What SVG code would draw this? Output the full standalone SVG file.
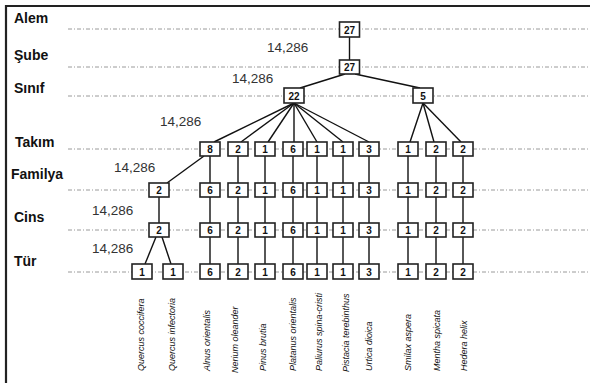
<svg xmlns="http://www.w3.org/2000/svg" width="590" height="383" viewBox="0 0 590 383">
<style>
.lvl{font-family:"Liberation Sans",Arial,sans-serif;font-weight:bold;font-size:14px;fill:#111}
.val{font-family:"Liberation Sans",Arial,sans-serif;font-size:13.5px;fill:#333}
.grid{stroke:#9a9a9a;stroke-width:1;stroke-dasharray:4 2 1 2;fill:none}
.box rect{fill:#fff;stroke:#222;stroke-width:1.6}
.box text{font-family:"Liberation Sans",Arial,sans-serif;font-weight:bold;font-size:10px;fill:#111;text-anchor:middle}
.edge{stroke:#111;stroke-width:1.4;fill:none}
.sp{font-family:"Liberation Sans",Arial,sans-serif;font-style:italic;font-size:9px;fill:#111}
</style>
<rect x="0" y="0" width="590" height="383" fill="#fff"/>
<path d="M6 383 V6 H590" stroke="#222" stroke-width="2.2" fill="none"/>
<g id="levels">
<text class="lvl" x="14" y="23">Alem</text>
<text class="lvl" x="14" y="60">Şube</text>
<text class="lvl" x="14" y="93">Sınıf</text>
<text class="lvl" x="15" y="147">Takım</text>
<text class="lvl" x="11" y="179">Familya</text>
<text class="lvl" x="14" y="222">Cins</text>
<text class="lvl" x="14" y="266">Tür</text>
</g>
<g id="grid">
<line class="grid" x1="68" y1="29" x2="590" y2="29"/>
<line class="grid" x1="68" y1="67" x2="590" y2="67"/>
<line class="grid" x1="68" y1="96" x2="590" y2="96"/>
<line class="grid" x1="68" y1="149" x2="590" y2="149"/>
<line class="grid" x1="68" y1="190" x2="590" y2="190"/>
<line class="grid" x1="68" y1="230" x2="590" y2="230"/>
<line class="grid" x1="68" y1="272" x2="590" y2="272"/>
</g>
<g id="values">
<text class="val" x="267" y="52">14,286</text>
<text class="val" x="232" y="83">14,286</text>
<text class="val" x="160" y="126">14,286</text>
<text class="val" x="114" y="172">14,286</text>
<text class="val" x="92" y="215">14,286</text>
<text class="val" x="92" y="253">14,286</text>
</g>
<g id="connectors">
<line class="edge" x1="349.5" y1="37" x2="349.5" y2="60"/>
<line class="edge" x1="345" y1="74" x2="300" y2="88"/>
<line class="edge" x1="355" y1="74" x2="420" y2="88"/>
<line class="edge" x1="294" y1="103" x2="214" y2="142"/>
<line class="edge" x1="294" y1="103" x2="241" y2="142"/>
<line class="edge" x1="294" y1="103" x2="268" y2="142"/>
<line class="edge" x1="294" y1="103" x2="294" y2="142"/>
<line class="edge" x1="294" y1="103" x2="317" y2="142"/>
<line class="edge" x1="294" y1="103" x2="343" y2="142"/>
<line class="edge" x1="294" y1="103" x2="369" y2="142"/>
<line class="edge" x1="423" y1="103" x2="410" y2="142"/>
<line class="edge" x1="423" y1="103" x2="434" y2="142"/>
<line class="edge" x1="423" y1="103" x2="461" y2="142"/>
<line class="edge" x1="204" y1="156" x2="167" y2="183"/>
<line class="edge" x1="159" y1="197" x2="159" y2="223"/>
<line class="edge" x1="156" y1="237" x2="145" y2="264"/>
<line class="edge" x1="162" y1="237" x2="171" y2="264"/>
<path class="edge" d="M210 156V264M238 156V264M265 156V264M293 156V264M317 156V264M343 156V264M369 156V264M408 156V264M436 156V264M463 156V264"/>
</g>
<g id="n-alem" class="box"><rect x="339.5" y="22" width="20" height="15"/><text x="349.5" y="33.5">27</text></g>
<g id="n-sube" class="box"><rect x="339.5" y="60" width="20" height="14"/><text x="349.5" y="71">27</text></g>
<g id="n-sinif22" class="box"><rect x="284" y="88" width="20" height="15"/><text x="294" y="99.5">22</text></g>
<g id="n-sinif5" class="box"><rect x="413" y="88" width="20" height="15"/><text x="423" y="99.5">5</text></g>
<g id="takim">
<g id="t1" class="box"><rect x="200" y="142" width="20" height="14"/><text x="210" y="153">8</text></g>
<g id="t2" class="box"><rect x="228" y="142" width="20" height="14"/><text x="238" y="153">2</text></g>
<g id="t3" class="box"><rect x="255" y="142" width="20" height="14"/><text x="265" y="153">1</text></g>
<g id="t4" class="box"><rect x="283" y="142" width="20" height="14"/><text x="293" y="153">6</text></g>
<g id="t5" class="box"><rect x="307" y="142" width="20" height="14"/><text x="317" y="153">1</text></g>
<g id="t6" class="box"><rect x="333" y="142" width="20" height="14"/><text x="343" y="153">1</text></g>
<g id="t7" class="box"><rect x="359" y="142" width="20" height="14"/><text x="369" y="153">3</text></g>
<g id="t8" class="box"><rect x="398" y="142" width="20" height="14"/><text x="408" y="153">1</text></g>
<g id="t9" class="box"><rect x="426" y="142" width="20" height="14"/><text x="436" y="153">2</text></g>
<g id="t10" class="box"><rect x="453" y="142" width="20" height="14"/><text x="463" y="153">2</text></g>
</g>
<g id="familya">
<g id="f0" class="box"><rect x="149" y="183" width="20" height="14"/><text x="159" y="194">2</text></g>
<g id="f1" class="box"><rect x="200" y="183" width="20" height="14"/><text x="210" y="194">6</text></g>
<g id="f2" class="box"><rect x="228" y="183" width="20" height="14"/><text x="238" y="194">2</text></g>
<g id="f3" class="box"><rect x="255" y="183" width="20" height="14"/><text x="265" y="194">1</text></g>
<g id="f4" class="box"><rect x="283" y="183" width="20" height="14"/><text x="293" y="194">6</text></g>
<g id="f5" class="box"><rect x="307" y="183" width="20" height="14"/><text x="317" y="194">1</text></g>
<g id="f6" class="box"><rect x="333" y="183" width="20" height="14"/><text x="343" y="194">1</text></g>
<g id="f7" class="box"><rect x="359" y="183" width="20" height="14"/><text x="369" y="194">3</text></g>
<g id="f8" class="box"><rect x="398" y="183" width="20" height="14"/><text x="408" y="194">1</text></g>
<g id="f9" class="box"><rect x="426" y="183" width="20" height="14"/><text x="436" y="194">2</text></g>
<g id="f10" class="box"><rect x="453" y="183" width="20" height="14"/><text x="463" y="194">2</text></g>
</g>
<g id="cins">
<g id="c0" class="box"><rect x="149" y="223" width="20" height="14"/><text x="159" y="234">2</text></g>
<g id="c1" class="box"><rect x="200" y="223" width="20" height="14"/><text x="210" y="234">6</text></g>
<g id="c2" class="box"><rect x="228" y="223" width="20" height="14"/><text x="238" y="234">2</text></g>
<g id="c3" class="box"><rect x="255" y="223" width="20" height="14"/><text x="265" y="234">1</text></g>
<g id="c4" class="box"><rect x="283" y="223" width="20" height="14"/><text x="293" y="234">6</text></g>
<g id="c5" class="box"><rect x="307" y="223" width="20" height="14"/><text x="317" y="234">1</text></g>
<g id="c6" class="box"><rect x="333" y="223" width="20" height="14"/><text x="343" y="234">1</text></g>
<g id="c7" class="box"><rect x="359" y="223" width="20" height="14"/><text x="369" y="234">3</text></g>
<g id="c8" class="box"><rect x="398" y="223" width="20" height="14"/><text x="408" y="234">1</text></g>
<g id="c9" class="box"><rect x="426" y="223" width="20" height="14"/><text x="436" y="234">2</text></g>
<g id="c10" class="box"><rect x="453" y="223" width="20" height="14"/><text x="463" y="234">2</text></g>
</g>
<g id="tur">
<g id="s0" class="box"><rect x="132" y="264" width="20" height="15"/><text x="142" y="275.5">1</text></g>
<g id="s0b" class="box"><rect x="163" y="264" width="20" height="15"/><text x="173" y="275.5">1</text></g>
<g id="s1" class="box"><rect x="200" y="264" width="20" height="15"/><text x="210" y="275.5">6</text></g>
<g id="s2" class="box"><rect x="228" y="264" width="20" height="15"/><text x="238" y="275.5">2</text></g>
<g id="s3" class="box"><rect x="255" y="264" width="20" height="15"/><text x="265" y="275.5">1</text></g>
<g id="s4" class="box"><rect x="283" y="264" width="20" height="15"/><text x="293" y="275.5">6</text></g>
<g id="s5" class="box"><rect x="307" y="264" width="20" height="15"/><text x="317" y="275.5">1</text></g>
<g id="s6" class="box"><rect x="333" y="264" width="20" height="15"/><text x="343" y="275.5">1</text></g>
<g id="s7" class="box"><rect x="359" y="264" width="20" height="15"/><text x="369" y="275.5">3</text></g>
<g id="s8" class="box"><rect x="398" y="264" width="20" height="15"/><text x="408" y="275.5">1</text></g>
<g id="s9" class="box"><rect x="426" y="264" width="20" height="15"/><text x="436" y="275.5">2</text></g>
<g id="s10" class="box"><rect x="453" y="264" width="20" height="15"/><text x="463" y="275.5">2</text></g>
</g>
<g id="species">
<text class="sp" transform="translate(144,371) rotate(-90)">Quercus coccifera</text>
<text class="sp" transform="translate(175,371) rotate(-90)">Quercus infectoria</text>
<text class="sp" transform="translate(210,371) rotate(-90)">Alnus orientalis</text>
<text class="sp" transform="translate(238,373) rotate(-90)">Nerium oleander</text>
<text class="sp" transform="translate(266,371) rotate(-90)">Pinus brutia</text>
<text class="sp" transform="translate(296,371) rotate(-90)">Platanus orientalis</text>
<text class="sp" transform="translate(322,371) rotate(-90)">Paliurus spina-cristi</text>
<text class="sp" transform="translate(349,372) rotate(-90)">Pistacia terebinthus</text>
<text class="sp" transform="translate(372,371) rotate(-90)">Urtica dioica</text>
<text class="sp" transform="translate(411,371) rotate(-90)">Smilax aspera</text>
<text class="sp" transform="translate(440,371) rotate(-90)">Mentha spicata</text>
<text class="sp" transform="translate(467,371) rotate(-90)">Hedera helix</text>
</g>
</svg>
